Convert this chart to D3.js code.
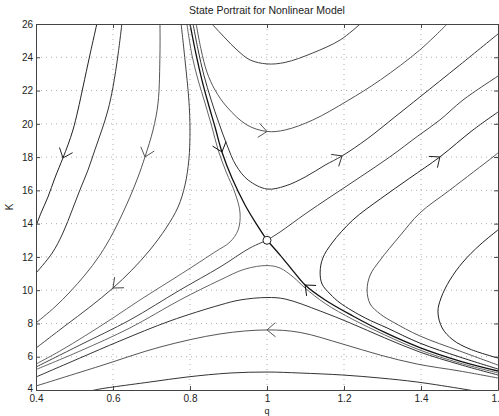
<!DOCTYPE html>
<html><head><meta charset="utf-8">
<script src="https://cdn.jsdelivr.net/npm/d3@7"></script>
<style>
body{margin:0;background:#fff}
svg{display:block}
text{font-family:"Liberation Sans",Arial,Helvetica,sans-serif}
</style>
</head><body>
<svg id="chart" width="499" height="416"></svg>
<script>
// ---------- data ----------
const title = "State Portrait for Nonlinear Model";
const xLabel = "q", yLabel = "K";
const xTicks = [0.4, 0.6, 0.8, 1, 1.2, 1.4, 1.6];
const yTicks = [4, 6, 8, 10, 12, 14, 16, 18, 20, 22, 24, 26];
const saddle = [1, 13];

// trajectories, each listed in the direction of flow: [q, K]
const L1 = [[0.558,26],[0.540,24.14],[0.522,22.21],[0.509,20.83],[0.496,19.63],[0.483,18.73],[0.470,17.95],[0.449,16.74],[0.431,15.60],[0.413,14.64],[0.400,13.86]];
const L2 = [[0.623,26],[0.613,24.14],[0.600,22.21],[0.587,20.83],[0.571,19.63],[0.553,18.43],[0.535,17.22],[0.514,16.02],[0.494,14.82],[0.470,13.44],[0.442,12.23],[0.400,11.03]];
const L3 = [[0.722,26],[0.722,24.26],[0.717,21.25],[0.704,19.63],[0.683,18.01],[0.665,16.80],[0.644,15.60],[0.623,14.52],[0.600,13.44],[0.566,12.11],[0.527,10.91],[0.488,9.89],[0.449,8.99],[0.400,8.03]];
const L4 = [[0.777,26],[0.787,23.84],[0.797,21.43],[0.800,19.63],[0.797,17.83],[0.787,16.32],[0.769,15.00],[0.738,13.74],[0.696,12.42],[0.649,11.21],[0.600,10.13],[0.540,8.99],[0.475,7.85],[0.400,6.52]];
const L5 = [[0.792,26],[0.805,24.14],[0.821,22.63],[0.839,21.25],[0.857,19.81],[0.873,18.43],[0.894,17.10],[0.917,15.84],[0.930,14.64],[0.925,13.62],[0.904,12.90],[0.865,12.30],[0.813,11.51],[0.748,10.55],[0.670,9.41],[0.600,8.33],[0.527,7.25],[0.462,6.34],[0.400,5.56]];
const stableUpper = [[0.800,26],[0.816,24.14],[0.831,22.63],[0.847,21.25],[0.865,19.81],[0.883,18.31],[0.909,16.74],[0.943,15.12],[0.974,13.92],[1.0,13.0]];
const stableLower = [[1.6,5.14],[1.501,5.74],[1.397,6.55],[1.306,7.46],[1.223,8.45],[1.151,9.41],[1.099,10.31],[1.068,11.15],[1.034,12.11],[1.0,13.0]];
const unstableUpper = [[1.0,13.0],[1.034,13.50],[1.099,14.58],[1.164,15.60],[1.242,16.80],[1.319,18.01],[1.392,19.27],[1.449,20.23],[1.509,21.43],[1.6,22.87]];
const unstableLower = [[1.0,13.0],[0.956,12.54],[0.878,11.39],[0.774,10.01],[0.644,8.21],[0.514,6.70],[0.400,5.38]];
const A = [[0.857,26],[0.891,25.16],[0.922,24.44],[0.956,23.84],[1.0,23.60],[1.047,23.69],[1.119,24.26],[1.190,25.04],[1.242,26]];
const B = [[0.816,26],[0.829,24.44],[0.844,23.11],[0.865,22.03],[0.896,21.01],[0.948,19.93],[1.0,19.54],[1.047,19.63],[1.119,20.23],[1.208,21.37],[1.294,22.63],[1.397,24.44],[1.468,26]];
const C = [[0.808,26],[0.821,24.44],[0.836,22.93],[0.855,21.43],[0.875,20.05],[0.896,18.73],[0.919,17.52],[0.951,16.62],[1.0,16.08],[1.047,16.26],[1.099,16.80],[1.151,17.52],[1.195,18.07],[1.260,19.09],[1.332,20.41],[1.397,21.61],[1.501,23.54],[1.6,25.40]];
const R1 = [[1.6,5.26],[1.501,5.98],[1.397,6.82],[1.312,7.73],[1.255,8.33],[1.190,9.23],[1.164,9.77],[1.143,10.37],[1.138,11.09],[1.145,11.93],[1.169,12.84],[1.223,14.22],[1.294,15.48],[1.371,16.74],[1.449,18.01],[1.535,19.63],[1.6,20.71]];
const R2 = [[1.6,5.50],[1.501,6.34],[1.397,7.25],[1.327,8.09],[1.294,8.57],[1.268,9.17],[1.260,10.01],[1.268,10.91],[1.294,11.81],[1.345,13.26],[1.397,14.64],[1.475,16.02],[1.587,18.01],[1.6,18.25]];
const R3 = [[1.6,5.92],[1.527,6.46],[1.483,7.01],[1.455,7.73],[1.444,8.69],[1.452,9.53],[1.475,10.61],[1.509,11.69],[1.553,12.72],[1.6,13.62]];
const C3 = [[1.6,5.02],[1.501,5.62],[1.397,6.40],[1.306,7.31],[1.223,8.24],[1.151,9.20],[1.099,10.13],[1.068,10.79],[1.034,11.33],[1.0,11.48],[0.943,11.27],[0.878,10.61],[0.774,9.41],[0.644,7.73],[0.514,6.34],[0.400,5.23]];
const C4 = [[1.6,4.90],[1.501,5.53],[1.397,6.28],[1.306,7.13],[1.216,8.03],[1.138,8.75],[1.047,9.47],[1.0,9.56],[0.930,9.41],[0.878,9.11],[0.748,8.15],[0.618,6.95],[0.514,5.92],[0.400,4.78]];
const C5 = [[1.6,4.72],[1.501,5.14],[1.390,5.56],[1.294,6.10],[1.197,6.76],[1.086,7.46],[1.0,7.61],[0.878,7.37],[0.722,6.58],[0.566,5.44],[0.400,4.24]];
const C6 = [[1.540,3.94],[1.509,4.06],[1.390,4.48],[1.294,4.72],[1.197,4.90],[1.086,5.02],[1.0,5.08],[0.904,5.02],[0.792,4.78],[0.696,4.48],[0.600,4.18],[0.566,4.06],[0.540,3.94]];

const trajectories = {L1, L2, L3, L4, L5, stableUpper, stableLower, unstableUpper, unstableLower, A, B, C, R1, R2, R3, C3, C4, C5, C6};
// arrowheads: [trajectory, point index]
const arrows = [["L1",6],["L3",4],["L4",10],["stableUpper",5],["B",6],["C",12],["R1",14],["stableLower",6],["C5",6]];

// ---------- styles ----------
const styles = {
  L1:{c:"#222",w:1}, L2:{c:"#333",w:1}, L3:{c:"#555",w:1}, L4:{c:"#444",w:1}, L5:{c:"#666",w:1},
  stableUpper:{c:"#111",w:1.3}, stableLower:{c:"#111",w:1.3},
  unstableUpper:{c:"#444",w:1}, unstableLower:{c:"#444",w:1},
  A:{c:"#444",w:1}, B:{c:"#555",w:1}, C:{c:"#333",w:1},
  R1:{c:"#222",w:1}, R2:{c:"#555",w:1}, R3:{c:"#222",w:1},
  C3:{c:"#666",w:1}, C4:{c:"#333",w:1}, C5:{c:"#555",w:1}, C6:{c:"#333",w:1}
};

const W = 499, H = 416;
const m = {l:36, r:1, t:24, b:26};
const svg = d3.select("#chart");
const x = d3.scaleLinear().domain([0.4,1.6]).range([m.l, W-m.r]);
const y = d3.scaleLinear().domain([4,26]).range([H-m.b, m.t]);

svg.append("defs").append("clipPath").attr("id","clip")
  .append("rect").attr("x",x(0.4)).attr("y",y(26)).attr("width",x(1.6)-x(0.4)).attr("height",y(4)-y(26));

// grid
const grid = svg.append("g").attr("stroke","#999").attr("stroke-width",0.8).attr("stroke-dasharray","1,4");
grid.selectAll("line.v").data(xTicks.slice(1,-1)).join("line")
  .attr("x1",d=>x(d)).attr("x2",d=>x(d)).attr("y1",y(4)).attr("y2",y(26));
grid.selectAll("line.h").data(yTicks.slice(1,-1)).join("line")
  .attr("y1",d=>y(d)).attr("y2",d=>y(d)).attr("x1",x(0.4)).attr("x2",x(1.6));

// trajectories
const line = d3.line().x(d=>x(d[0])).y(d=>y(d[1])).curve(d3.curveCatmullRom.alpha(0.5));
const g = svg.append("g").attr("clip-path","url(#clip)").attr("fill","none");
Object.entries(trajectories).forEach(([k,pts])=>{
  g.append("path").attr("d",line(pts)).attr("stroke",styles[k].c).attr("stroke-width",styles[k].w);
});

// arrowheads
arrows.forEach(([k,i])=>{
  const pts = trajectories[k];
  const p = [x(pts[i][0]), y(pts[i][1])];
  const a = [x(pts[i-1][0]), y(pts[i-1][1])], b = [x(pts[i+1][0]), y(pts[i+1][1])];
  let dx = b[0]-a[0], dy = b[1]-a[1]; const n = Math.hypot(dx,dy); dx/=n; dy/=n;
  const ang = Math.atan2(-dy,-dx), len = 11, s = 40*Math.PI/180;
  const p1 = [p[0]+len*Math.cos(ang+s), p[1]+len*Math.sin(ang+s)];
  const p2 = [p[0]+len*Math.cos(ang-s), p[1]+len*Math.sin(ang-s)];
  g.append("path").attr("d",`M${p1}L${p}L${p2}`).attr("stroke",styles[k].c).attr("stroke-width",1);
});

// saddle point
svg.append("circle").attr("cx",x(saddle[0])).attr("cy",y(saddle[1])).attr("r",4)
  .attr("fill","#fff").attr("stroke","#222").attr("stroke-width",1);

// axes
const fmt = d=>String(d);
const axStyle = sel=>{ sel.selectAll("path.domain").attr("stroke","#444");
  sel.selectAll(".tick line").attr("stroke","#444");
  sel.selectAll("text").attr("fill","#222").style("font-size","10px"); };
svg.append("g").attr("transform",`translate(0,${y(4)})`)
  .call(d3.axisBottom(x).tickValues(xTicks).tickFormat(fmt).tickSize(-4).tickSizeOuter(0).tickPadding(5)).call(axStyle);
svg.append("g").attr("transform",`translate(0,${y(26)})`)
  .call(d3.axisTop(x).tickValues(xTicks).tickFormat("").tickSize(-4).tickSizeOuter(0)).call(axStyle);
svg.append("g").attr("transform",`translate(${x(0.4)},0)`)
  .call(d3.axisLeft(y).tickValues(yTicks).tickFormat(fmt).tickSize(-4).tickSizeOuter(0).tickPadding(3)).call(axStyle);
svg.append("g").attr("transform",`translate(${x(1.6)},0)`)
  .call(d3.axisRight(y).tickValues(yTicks).tickFormat("").tickSize(-4).tickSizeOuter(0)).call(axStyle);
svg.selectAll(".domain").attr("fill","none");
// keep the lowest y label clear of the x labels
svg.selectAll("text").filter(function(){ return this.textContent==="4"; }).attr("dy","0.1em");

// texts
svg.append("text").attr("x",(x(0.4)+x(1.6))/2).attr("y",14).attr("text-anchor","middle")
  .style("font-size","10.5px").attr("fill","#222").text(title);
svg.append("text").attr("x",x(1)).attr("y",414).attr("text-anchor","middle")
  .style("font-size","9px").attr("fill","#222").text(xLabel);
svg.append("text").attr("transform",`translate(13,${(y(4)+y(26))/2}) rotate(-90)`).attr("text-anchor","middle")
  .style("font-size","10px").attr("fill","#222").text(yLabel);
</script>
</body></html>
